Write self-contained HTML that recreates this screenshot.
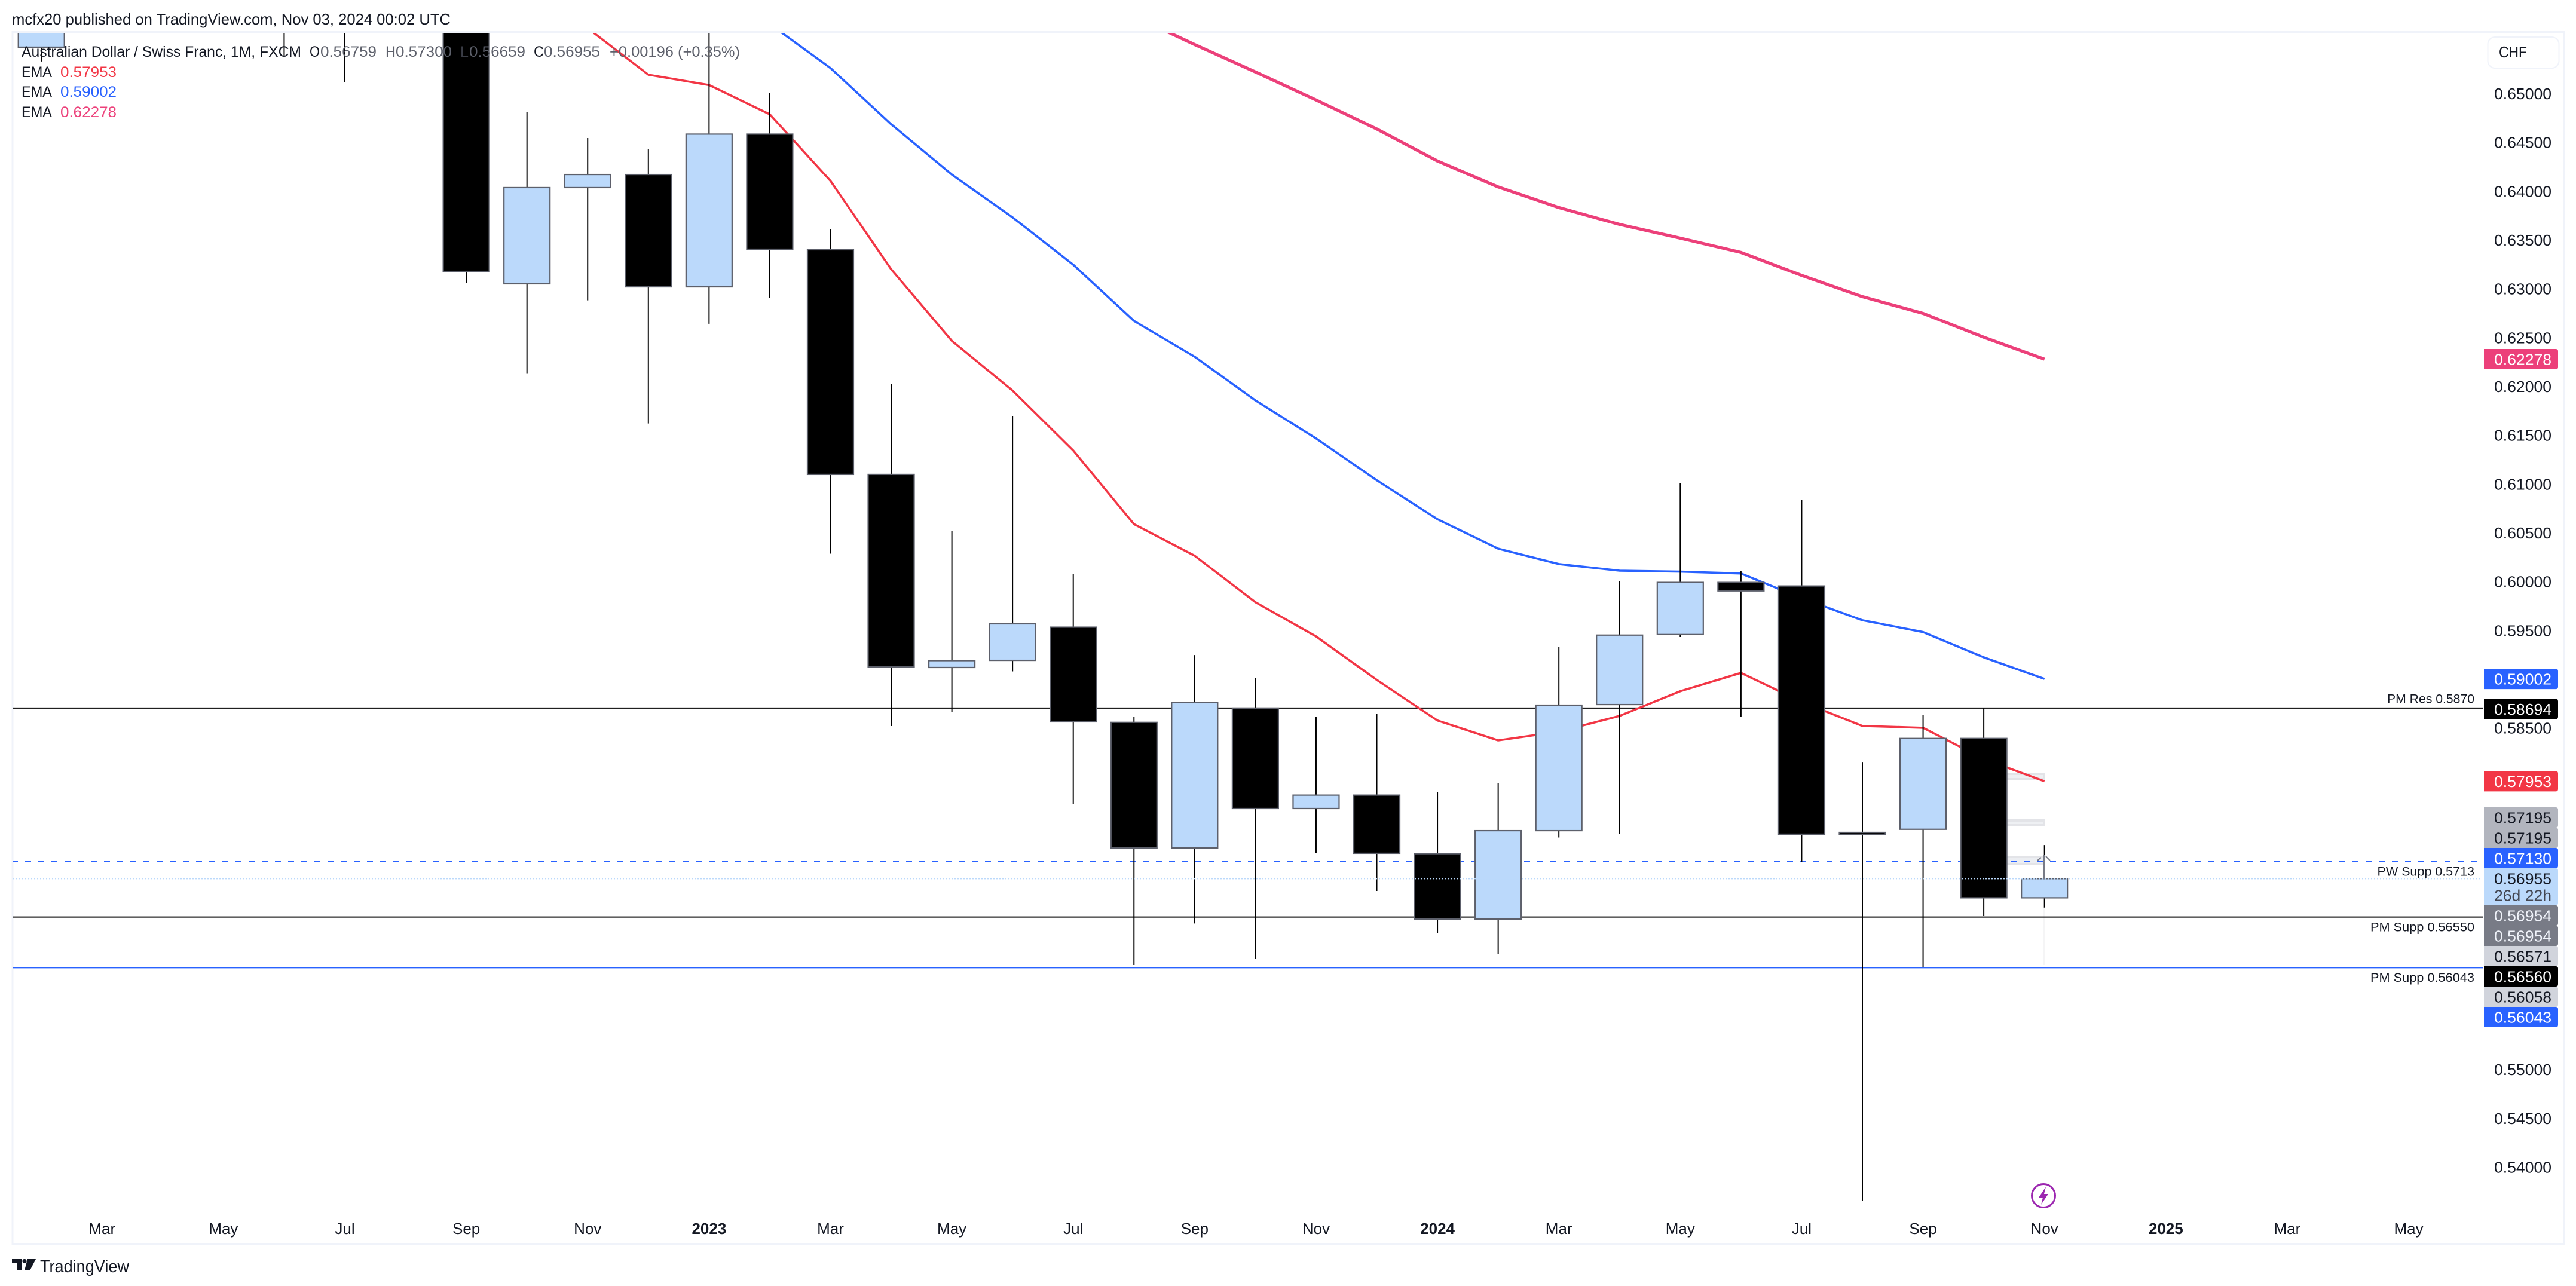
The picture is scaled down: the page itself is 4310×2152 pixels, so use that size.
<!DOCTYPE html>
<html lang="en">
<head>
<meta charset="utf-8">
<title>AUDCHF monthly chart</title>
<style>
html,body{margin:0;padding:0;background:#fff;width:4310px;height:2152px;overflow:hidden}
svg{display:block;position:absolute;left:0;top:0}
text{font-family:"Liberation Sans",sans-serif;fill:#131722}
</style>
</head>
<body>
<svg id="chart" xmlns="http://www.w3.org/2000/svg" width="4310" height="2152" viewBox="0 0 4310 2152">
  <defs>
    <clipPath id="pane"><rect x="22" y="55" width="4132" height="2025"/></clipPath>
  </defs>
  <rect x="0" y="0" width="4310" height="2152" fill="#ffffff"/>
  <rect x="21" y="53.5" width="4269" height="2028" fill="none" stroke="#f0f3fa" stroke-width="3"/>
  <text x="20" y="41" font-size="26" textLength="734" lengthAdjust="spacingAndGlyphs">mcfx20 published on TradingView.com, Nov 03, 2024 00:02 UTC</text>

  <g id="strips">
    <rect x="3358" y="1293" width="64" height="13" fill="#e3e4e8"/>
    <rect x="3358" y="1297" width="60" height="5" fill="#eef0f3"/>
    <rect x="3358" y="1371" width="64" height="12" fill="#e3e4e8"/>
    <rect x="3358" y="1375" width="60" height="4" fill="#eef0f3"/>
    <rect x="3358" y="1432" width="64" height="16" fill="#e3e4e8"/>
    <rect x="3358" y="1436" width="60" height="8" fill="#eceef2"/>
    <line x1="3420" y1="1518" x2="3420" y2="1615" stroke="#f5f5f6" stroke-width="2"/>
  </g>
  <g id="levels" clip-path="url(#pane)"></g>
  <g id="emas" clip-path="url(#pane)"></g>
  <g id="candles" clip-path="url(#pane)"></g>
  <g id="overlay" clip-path="url(#pane)"></g>
  <path d="M3409 1440 L3415 1435 M3423 1433 L3430 1440" fill="none" stroke="#787b86" stroke-width="2"/>
  <line x1="3420" y1="1430" x2="3420" y2="1471" stroke="#787b86" stroke-width="2"/>

  <g id="levelText">
    <text x="3994" y="1176.5" font-size="21" textLength="146" lengthAdjust="spacingAndGlyphs" fill="#000">PM Res 0.5870</text>
    <text x="3977.5" y="1465.5" font-size="21" textLength="162.5" lengthAdjust="spacingAndGlyphs">PW Supp 0.5713</text>
    <text x="3966" y="1558.5" font-size="21" textLength="174" lengthAdjust="spacingAndGlyphs">PM Supp 0.56550</text>
    <text x="3966" y="1643" font-size="21" textLength="174" lengthAdjust="spacingAndGlyphs">PM Supp 0.56043</text>
  </g>

  <g id="legend">
    <text x="36" y="95" font-size="25" textLength="468" lengthAdjust="spacingAndGlyphs">Australian Dollar / Swiss Franc, 1M, FXCM</text>
    <text x="518" y="95" font-size="25" textLength="17" lengthAdjust="spacingAndGlyphs">O</text>
    <text x="536" y="95" font-size="25" textLength="94" lengthAdjust="spacingAndGlyphs" style="fill:#5d606b">0.56759</text>
    <text x="645" y="95" font-size="25" textLength="17" lengthAdjust="spacingAndGlyphs" style="fill:#5d606b">H</text>
    <text x="662" y="95" font-size="25" textLength="94" lengthAdjust="spacingAndGlyphs" style="fill:#5d606b">0.57300</text>
    <text x="770" y="95" font-size="25" textLength="14" lengthAdjust="spacingAndGlyphs" style="fill:#3a3d46">L</text>
    <text x="785" y="95" font-size="25" textLength="94" lengthAdjust="spacingAndGlyphs" style="fill:#5d606b">0.56659</text>
    <text x="893" y="95" font-size="25" textLength="17" lengthAdjust="spacingAndGlyphs">C</text>
    <text x="910" y="95" font-size="25" textLength="94" lengthAdjust="spacingAndGlyphs" style="fill:#5d606b">0.56955</text>
    <text x="1020" y="95" font-size="25" textLength="218" lengthAdjust="spacingAndGlyphs" style="fill:#5d606b">+0.00196 (+0.35%)</text>
    <text x="36" y="129" font-size="25" textLength="51" lengthAdjust="spacingAndGlyphs">EMA</text>
    <text x="101" y="129" font-size="25" textLength="94" lengthAdjust="spacingAndGlyphs" style="fill:#f23645">0.57953</text>
    <text x="36" y="162" font-size="25" textLength="51" lengthAdjust="spacingAndGlyphs">EMA</text>
    <text x="101" y="162" font-size="25" textLength="94" lengthAdjust="spacingAndGlyphs" style="fill:#2962ff">0.59002</text>
    <text x="36" y="196" font-size="25" textLength="51" lengthAdjust="spacingAndGlyphs">EMA</text>
    <text x="101" y="196" font-size="25" textLength="94" lengthAdjust="spacingAndGlyphs" style="fill:#ec407a">0.62278</text>
  </g>

  <g id="priceAxis"></g>
  <g id="timeAxis"></g>

  <rect x="4162.5" y="62" width="119" height="52" rx="12" fill="#fff" stroke="#f0f3fa" stroke-width="2"/>
  <text x="4181" y="96" font-size="26" textLength="47" lengthAdjust="spacingAndGlyphs">CHF</text>

  <g>
    <circle cx="3419" cy="2001" r="19.5" fill="#fff" stroke="#9c27b0" stroke-width="3"/>
    <polygon points="3423,1986 3411,2004 3418,2004 3415,2016 3427,1998 3420,1998" fill="#9c27b0"/>
  </g>

  <g>
    <path d="M20 2107H36V2126H28V2114H20Z" fill="#131722"/>
    <circle cx="41" cy="2110.5" r="3.6" fill="#131722"/>
    <path d="M46 2107H60L50 2126H41Z" fill="#131722"/>
    <text x="67" y="2129" font-size="29" textLength="149" lengthAdjust="spacingAndGlyphs">TradingView</text>
  </g>
</svg>

<script>
// Categories: monthly bars from Feb 2022 to Nov 2024
const months = ["Feb22","Mar22","Apr22","May22","Jun22","Jul22","Aug22","Sep22","Oct22","Nov22","Dec22","Jan23","Feb23","Mar23","Apr23","May23","Jun23","Jul23","Aug23","Sep23","Oct23","Nov23","Dec23","Jan24","Feb24","Mar24","Apr24","May24","Jun24","Jul24","Aug24","Sep24","Oct24","Nov24"];
const opens = [.65475,.672,.690,.680,.692,.668,.675,.672,.63050,.64036,.64170,.63019,.64584,.63399,.61097,.59119,.59192,.59532,.58557,.57270,.58703,.57674,.57811,.57211,.56541,.57447,.58739,.59457,.59991,.59954,.57429,.57461,.58392,.56759];
const highs = [.675,.695,.705,.700,.700,.680,.690,.680,.64807,.64544,.64434,.66000,.65009,.63613,.62021,.60515,.61697,.60080,.58611,.59247,.59009,.58611,.58647,.57845,.57937,.59333,.60001,.61005,.60107,.60833,.58151,.58633,.58703,.57300];
const lows = [.65328,.668,.675,.672,.65377,.65113,.662,.63059,.62128,.62881,.61619,.62640,.62906,.60285,.58519,.58660,.59079,.57723,.56070,.56496,.56137,.57218,.56829,.56396,.56182,.57377,.57417,.59431,.58614,.57129,.53651,.56045,.56572,.56659];
const closes = [.672,.690,.680,.692,.668,.675,.672,.63178,.64036,.64170,.63019,.64584,.63405,.61097,.59125,.59189,.59566,.58562,.57270,.58761,.57674,.57811,.57215,.56541,.57447,.58733,.59451,.59991,.59904,.57411,.57407,.58392,.56759,.56955];
const emaFast = [null,null,null,null,null,null,null,null,.66264,.65670,.65193,.65087,.64787,.64105,.63200,.62466,.61956,.61342,.60588,.60264,.59788,.59437,.58992,.58576,.58372,.58461,.58623,.58876,.59064,.58767,.58520,.58501,.58182,.57953];
const emaMid = [null,null,null,null,null,null,null,null,null,null,null,.66203,.65713,.65261,.64685,.64170,.63731,.63246,.62670,.62303,.61856,.61466,.61038,.60638,.60337,.60179,.60111,.60101,.60082,.59829,.59603,.59482,.59223,.59002];
const emaSlow = [null,null,null,null,null,null,null,null,null,null,null,null,null,null,null,null,null,null,.65793,.65502,.65221,.64934,.64637,.64309,.64043,.63831,.63659,.63518,.63372,.63137,.62919,.62747,.62503,.62278];
// Axis tick labels
const priceTicks = [.65,.645,.64,.635,.63,.625,.62,.615,.61,.605,.60,.595,.585,.55,.545,.54];
const timeTickLabels = ["Mar","May","Jul","Sep","Nov","2023","Mar","May","Jul","Sep","Nov","2024","Mar","May","Jul","Sep","Nov","2025","Mar","May"];
// Price levels drawn across the pane
const levelPrices = {resistance:.58703, weeklySupport:.5713, currentClose:.56955, monthlySupport:.56562, lowerSupport:.56043};
// Axis tags
const freeTagValues = [.62278,.59002,.58694,.57953];
const freeTagFills = ["#ec407a","#2962ff","#000000","#f23645"];
const stackTagTexts = ["0.57195","0.57195","0.57130","0.56955","0.56954","0.56954","0.56571","0.56560","0.56058","0.56043"];
const stackTagFills = ["#b2b5be","#b2b5be","#2962ff","#bbd9fb","#787b86","#787b86","#d1d4dc","#000000","#d1d4dc","#2962ff"];
const stackTagInks = ["#131722","#131722","#ffffff","#131722","#f0f3fa","#f0f3fa","#131722","#ffffff","#131722","#ffffff"];
const countdownText = "26d 22h";

const SVGNS = "http://www.w3.org/2000/svg";
const xScale = i => 69.2 + i * 101.56;
const yScale = p => 156.5 + (0.65 - p) * 16332;
function mk(tag, parent, attrs, text) {
  const el = document.createElementNS(SVGNS, tag);
  for (const k in attrs) el.setAttribute(k, attrs[k]);
  if (text !== undefined) el.textContent = text;
  parent.appendChild(el);
  return el;
}
const $ = id => document.getElementById(id);

// Horizontal levels (behind the candles)
const PANE_L = 22, LEVEL_R = 4154;
let el = mk("line", $("levels"), {x1:PANE_L,x2:LEVEL_R,y1:yScale(levelPrices.resistance),y2:yScale(levelPrices.resistance),stroke:"#000",'stroke-width':2});


el = mk("line", $("levels"), {x1:PANE_L,x2:4145,y1:yScale(levelPrices.weeklySupport),y2:yScale(levelPrices.weeklySupport),stroke:"#2962ff",'stroke-width':2,'stroke-dasharray':"10 12",'stroke-dashoffset':2});


el = mk("line", $("levels"), {x1:PANE_L,x2:LEVEL_R,y1:yScale(levelPrices.monthlySupport),y2:yScale(levelPrices.monthlySupport),stroke:"#000",'stroke-width':2});


el = mk("line", $("levels"), {x1:PANE_L,x2:LEVEL_R,y1:yScale(levelPrices.lowerSupport),y2:yScale(levelPrices.lowerSupport),stroke:"#2962ff",'stroke-width':2});



// EMA lines
function emaPoints(series) {
  const pts = [];
  series.forEach((v, i) => { if (v !== null) pts.push(xScale(i).toFixed(1) + "," + yScale(v).toFixed(1)); });
  return pts.join(" ");
}
el = mk("polyline", $("emas"), {points:emaPoints(emaSlow),fill:"none",stroke:"#ec407a",'stroke-width':5.2,'stroke-linejoin':"round"});


el = mk("polyline", $("emas"), {points:emaPoints(emaMid),fill:"none",stroke:"#2962ff",'stroke-width':3.6,'stroke-linejoin':"round"});


el = mk("polyline", $("emas"), {points:emaPoints(emaFast),fill:"none",stroke:"#f23645",'stroke-width':3.6,'stroke-linejoin':"round"});



// Candles
months.forEach((m, i) => {
  const cx = xScale(i);
  const up = closes[i] >= opens[i];
  const wick = mk("line", $("candles"), {x1:cx,x2:cx,y1:yScale(highs[i]),y2:yScale(lows[i]),stroke:"#000",'stroke-width':2});
  
  
  const top = yScale(Math.max(opens[i], closes[i]));
  const bot = yScale(Math.min(opens[i], closes[i]));
  const body = mk("rect", $("candles"), {x:cx-38.5,y:top,width:77,height:Math.max(bot-top,1),fill:up?"#bbd9fb":"#000000",stroke:"#5d606b",'stroke-width':2.2});
  
  
});

// Dotted current price line sits above the candles
el = mk("line", $("overlay"), {x1:PANE_L,x2:4150,y1:yScale(levelPrices.currentClose),y2:yScale(levelPrices.currentClose),stroke:"#bbd9fb",'stroke-width':2,'stroke-dasharray':"2 3"});



// Price axis ticks
function axisValueText(parent, y, str, ink) {
  return mk("text", parent, {x:4173,y:y+9.5,'font-size':26,textLength:96,lengthAdjust:"spacingAndGlyphs",style:"fill:"+ink}, str);
}
priceTicks.forEach(p => {
  const t = axisValueText($("priceAxis"), yScale(p), p.toFixed(5), "#131722");
  
  
});

// Axis tags
function tagPath(y, h) {
  const x0 = 4156, x1 = 4280, r = 4;
  return "M"+x0+" "+y+"H"+(x1-r)+"Q"+x1+" "+y+" "+x1+" "+(y+r)+"V"+(y+h-r)+"Q"+x1+" "+(y+h)+" "+(x1-r)+" "+(y+h)+"H"+x0+"Z";
}
freeTagValues.forEach((v, i) => {
  const y = yScale(v);
  const p = mk("path", $("priceAxis"), {d:tagPath(y-17,34),fill:freeTagFills[i]});
  
  
  const t = axisValueText($("priceAxis"), y, v.toFixed(5), "#ffffff");
  
  
});
const ROW = 34, STACK_TOP = 1351, COUNTDOWN_ROW = 28;
let stackY = STACK_TOP;
stackTagTexts.forEach((txt, i) => {
  const isCurrent = i === 3;
  const h = isCurrent ? ROW + COUNTDOWN_ROW : ROW;
  const p = mk("path", $("priceAxis"), {d:tagPath(stackY,h),fill:stackTagFills[i]});
  
  
  const t = axisValueText($("priceAxis"), stackY + 17, txt, stackTagInks[i]);
  
  
  if (isCurrent) {
    const c = axisValueText($("priceAxis"), stackY + 45, countdownText, "#434651");
    
    
  }
  stackY += h;
});

// Time axis
timeTickLabels.forEach((lab, k) => {
  const bold = /^\d/.test(lab);
  const t = mk("text", $("timeAxis"), {x:xScale(1 + 2 * k),y:2065,'font-size':26,'text-anchor':"middle",'font-weight':bold?700:400}, lab);
  
  
});
</script>
</body>
</html>
